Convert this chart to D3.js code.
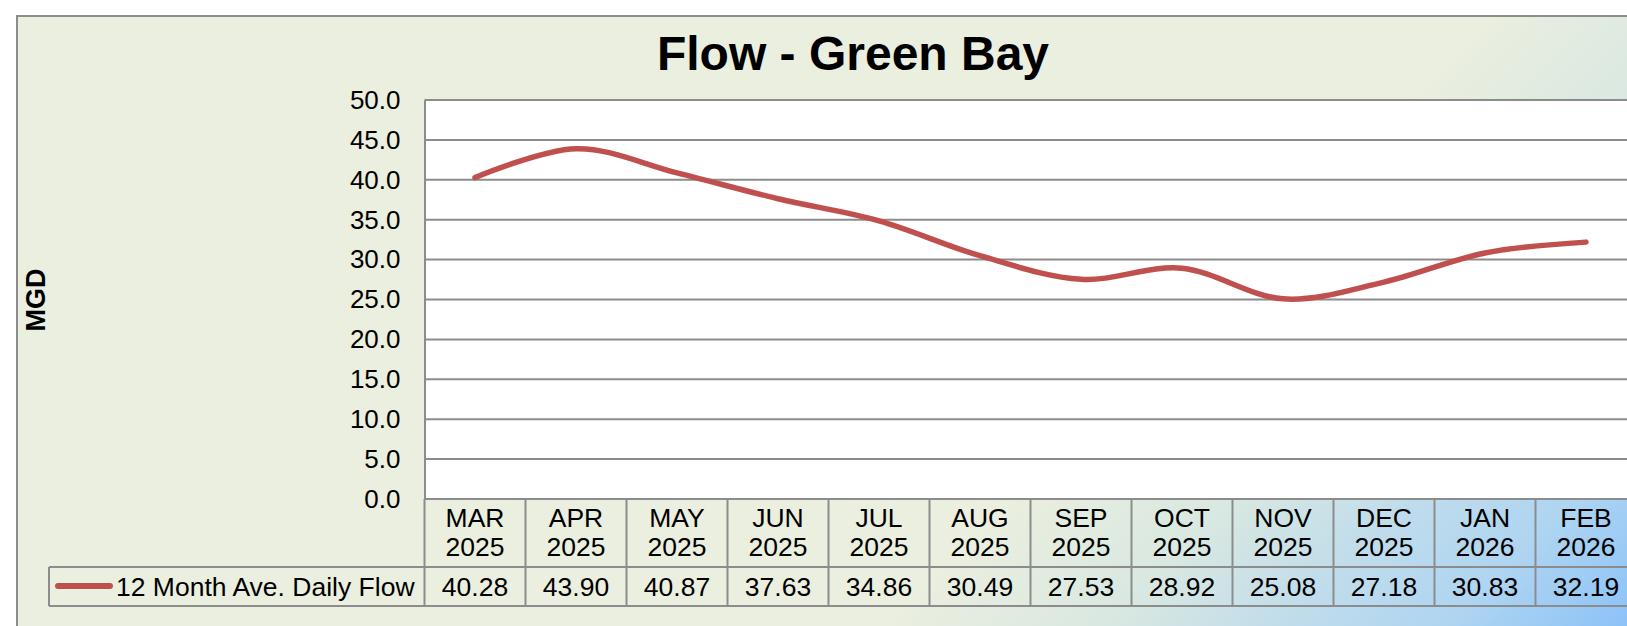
<!DOCTYPE html>
<html>
<head>
<meta charset="utf-8">
<script src="https://cdn.jsdelivr.net/npm/d3@7"></script>
<style>
  html, body { margin: 0; padding: 0; background: #ffffff; }
  svg { display: block; font-family: "Liberation Sans", Arial, sans-serif; }
</style>
</head>
<body>
<svg id="chart" width="1627" height="626"></svg>
<script>
// ---- data ----
const months = ["MAR", "APR", "MAY", "JUN", "JUL", "AUG", "SEP", "OCT", "NOV", "DEC", "JAN", "FEB"];
const years  = ["2025", "2025", "2025", "2025", "2025", "2025", "2025", "2025", "2025", "2025", "2026", "2026"];
const flowValues = [40.28, 43.90, 40.87, 37.63, 34.86, 30.49, 27.53, 28.92, 25.08, 27.18, 30.83, 32.19];
const yTickValues = [0, 5, 10, 15, 20, 25, 30, 35, 40, 45, 50];
const seriesName = "12 Month Ave. Daily Flow";
const chartTitle = "Flow - Green Bay";
const yAxisTitle = "MGD";

// ---- layout ----
const svg = d3.select("#chart");
const plotLeft = 424.5, plotTop = 100, plotBottom = 499, colW = 101;
const plotRight = plotLeft + colW * months.length;
const headerBottom = 567, tableBottom = 606, legendLeft = 49;
const gridColor = "#8c8c8c";

const categories = months.map((m, i) => m + " " + years[i]);
const x = d3.scaleBand().domain(categories).range([plotLeft, plotRight]).padding(0);
const y = d3.scaleLinear().domain([0, 50]).range([plotBottom, plotTop]);

// background gradient
const defs = svg.append("defs");
const grad = defs.append("linearGradient").attr("id", "bg")
  .attr("gradientUnits", "userSpaceOnUse")
  .attr("x1", 750).attr("y1", 750).attr("x2", 1130).attr("y2", 1130);
[[0, "#ebefdf"], [0.3, "#d9e8e1"], [0.55, "#bfdcec"], [0.75, "#afd5f1"], [1, "#8bc2f8"]]
  .forEach(([o, c]) => grad.append("stop").attr("offset", o).attr("stop-color", c));

svg.append("rect").attr("x", 17).attr("y", 16).attr("width", 1700).attr("height", 700)
  .attr("fill", "url(#bg)").attr("stroke", gridColor).attr("stroke-width", 2);

// plot area
svg.append("rect").attr("x", plotLeft).attr("y", plotTop)
  .attr("width", plotRight - plotLeft).attr("height", plotBottom - plotTop)
  .attr("fill", "#ffffff");

// gridlines
svg.append("g").selectAll("line").data(yTickValues).join("line")
  .attr("x1", plotLeft).attr("x2", plotRight)
  .attr("y1", d => y(d)).attr("y2", d => y(d))
  .attr("stroke", gridColor).attr("stroke-width", 2);

// y axis
const yAxis = svg.append("g").attr("transform", `translate(${plotLeft},0)`)
  .call(d3.axisLeft(y).tickValues(yTickValues).tickFormat(d3.format(".1f")).tickSize(0).tickPadding(24));
yAxis.select(".domain").attr("stroke", gridColor).attr("stroke-width", 2);
yAxis.selectAll("text").attr("font-size", 26).attr("fill", "#000")
  .attr("font-family", "'Liberation Sans', Arial, sans-serif");

// title
svg.append("text").attr("x", 853).attr("y", 70).attr("text-anchor", "middle")
  .attr("font-size", 48).attr("font-weight", "bold").text(chartTitle);

// y-axis title
svg.append("text").attr("transform", "translate(45,300) rotate(-90)")
  .attr("text-anchor", "middle").attr("font-size", 27).attr("font-weight", "bold").text(yAxisTitle);

// data table
const table = svg.append("g");
const bounds = d3.range(months.length + 1).map(i => plotLeft + i * colW);
table.selectAll("line.v").data(bounds).join("line")
  .attr("x1", d => d).attr("x2", d => d).attr("y1", plotBottom).attr("y2", tableBottom)
  .attr("stroke", gridColor).attr("stroke-width", 2);
table.append("line").attr("x1", legendLeft).attr("x2", plotRight)
  .attr("y1", headerBottom).attr("y2", headerBottom).attr("stroke", gridColor).attr("stroke-width", 2);
table.append("line").attr("x1", legendLeft).attr("x2", plotRight)
  .attr("y1", tableBottom).attr("y2", tableBottom).attr("stroke", gridColor).attr("stroke-width", 2);
table.append("line").attr("x1", legendLeft).attr("x2", legendLeft)
  .attr("y1", headerBottom).attr("y2", tableBottom).attr("stroke", gridColor).attr("stroke-width", 2);

const hdr = table.selectAll("g.hdr").data(categories).join("g")
  .attr("transform", d => `translate(${x(d) + x.bandwidth() / 2},0)`);
hdr.append("text").attr("y", 527).attr("text-anchor", "middle").attr("font-size", 26.5)
  .text((d, i) => months[i]);
hdr.append("text").attr("y", 556).attr("text-anchor", "middle").attr("font-size", 26.5)
  .text((d, i) => years[i]);
hdr.append("text").attr("y", 596).attr("text-anchor", "middle").attr("font-size", 26.5)
  .text((d, i) => flowValues[i].toFixed(2));

// legend key
table.append("line").attr("x1", 58).attr("x2", 110).attr("y1", 586).attr("y2", 586)
  .attr("stroke", "#c0504d").attr("stroke-width", 6).attr("stroke-linecap", "round");
table.append("text").attr("x", 116).attr("y", 596).attr("font-size", 26.5).text(seriesName);

// series line
const line = d3.line()
  .x((d, i) => x(categories[i]) + x.bandwidth() / 2)
  .y(d => y(d))
  .curve(d3.curveCardinal.tension(0));
svg.append("path").datum(flowValues).attr("d", line)
  .attr("fill", "none").attr("stroke", "#c0504d").attr("stroke-width", 5.5)
  .attr("stroke-linecap", "round").attr("stroke-linejoin", "round");
</script>
</body>
</html>
